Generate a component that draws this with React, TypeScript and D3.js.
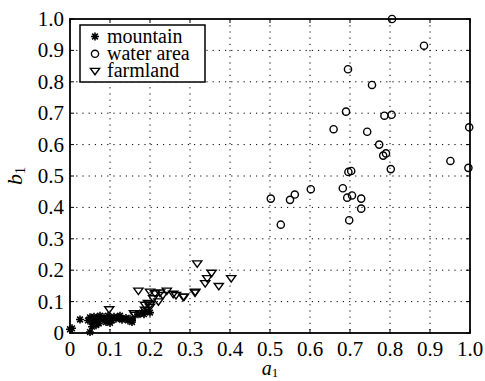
import * as d3 from "d3";

// point values, as [a1, b1]
const mountain: [number, number][] = [
  [0.0, 0.012], [0.005, 0.015], [0.025, 0.043], [0.05, 0.003], [0.055, 0.02],
  [0.058, 0.03], [0.045, 0.04], [0.05, 0.05], [0.055, 0.045], [0.06, 0.052],
  [0.065, 0.038], [0.07, 0.048], [0.075, 0.055], [0.08, 0.045], [0.085, 0.05],
  [0.09, 0.042], [0.095, 0.055], [0.1, 0.048], [0.105, 0.04], [0.11, 0.052],
  [0.115, 0.045], [0.12, 0.05], [0.125, 0.055], [0.13, 0.042], [0.14, 0.048],
  [0.145, 0.04], [0.15, 0.045], [0.155, 0.035], [0.065, 0.025], [0.072, 0.03],
  [0.09, 0.035], [0.1, 0.032], [0.129, 0.047], [0.155, 0.041], [0.17, 0.06],
  [0.18, 0.065], [0.19, 0.07], [0.185, 0.06], [0.2, 0.065],
];

const waterArea: [number, number][] = [
  [0.805, 1.0], [0.885, 0.915], [0.695, 0.84], [0.755, 0.79], [0.69, 0.705],
  [0.786, 0.692], [0.804, 0.695], [0.659, 0.649], [0.743, 0.641], [0.998, 0.655],
  [0.773, 0.6], [0.783, 0.565], [0.79, 0.572], [0.802, 0.522], [0.951, 0.548],
  [0.996, 0.526], [0.696, 0.513], [0.703, 0.516], [0.55, 0.424], [0.562, 0.441],
  [0.602, 0.458], [0.682, 0.461], [0.693, 0.431], [0.705, 0.438], [0.728, 0.428],
  [0.728, 0.396], [0.698, 0.359], [0.502, 0.428], [0.527, 0.345],
];

const farmland: [number, number][] = [
  [0.098, 0.075], [0.16, 0.062], [0.1625, 0.057], [0.175, 0.062], [0.1875, 0.073],
  [0.2, 0.083], [0.1875, 0.089], [0.208, 0.11], [0.221, 0.1], [0.195, 0.095],
  [0.2, 0.09], [0.171, 0.134], [0.2, 0.131], [0.2125, 0.126], [0.225, 0.128],
  [0.242, 0.134], [0.232, 0.12], [0.258, 0.124], [0.265, 0.12], [0.283, 0.115],
  [0.3125, 0.128], [0.318, 0.221], [0.354, 0.191], [0.343, 0.174], [0.338, 0.158],
  [0.372, 0.149], [0.403, 0.174], [0.313, 0.131], [0.285, 0.115],
];

const xTicks = [0, 0.1, 0.2, 0.3, 0.4, 0.5, 0.6, 0.7, 0.8, 0.9, 1.0];
const yTicks = [0, 0.1, 0.2, 0.3, 0.4, 0.5, 0.6, 0.7, 0.8, 0.9, 1.0];
const tickLabel = (v: number) => (v === 0 ? "0" : v.toFixed(1));
const legendNames = ["mountain", "water area", "farmland"];

const W = 485;
const H = 381;
const margin = { top: 19, right: 15, bottom: 48, left: 70 };
const font = "Liberation Serif";

// MATLAB-style '*' : a plus and a cross
const starPath = (r: number) => {
  const d = r * 0.7071;
  return `M${-r},0L${r},0M0,${-r}L0,${r}M${-d},${-d}L${d},${d}M${-d},${d}L${d},${-d}`;
};
const triPath = (s: number) => `M${-s},${-s * 0.6}L${s},${-s * 0.6}L0,${s * 0.8}Z`;

function Marker({ kind, x, y }: { kind: number; x: number; y: number }) {
  if (kind === 0)
    return <path d={starPath(4)} transform={`translate(${x},${y})`} stroke="#000" strokeWidth={1.6} fill="none" />;
  if (kind === 1)
    return <circle cx={x} cy={y} r={3.6} stroke="#000" strokeWidth={1.4} fill="none" />;
  return <path d={triPath(4.6)} transform={`translate(${x},${y})`} stroke="#000" strokeWidth={1.4} fill="none" />;
}

export default function App() {
  const iw = W - margin.left - margin.right;
  const ih = H - margin.top - margin.bottom;
  const x = d3.scaleLinear().domain([0, 1]).range([0, iw]);
  const y = d3.scaleLinear().domain([0, 1]).range([ih, 0]);
  const series = [mountain, waterArea, farmland];
  const txt = { fontFamily: font };

  return (
    <svg width={W} height={H} style={{ position: "absolute", left: 0, top: 0, background: "#fff" }}>
      <g transform={`translate(${margin.left},${margin.top})`}>
        {/* dotted grid */}
        {xTicks.slice(1, -1).map((t) => (
          <line key={"gx" + t} x1={x(t)} x2={x(t)} y1={0} y2={ih} stroke="#000" strokeWidth={1} strokeDasharray="1.2,5" />
        ))}
        {yTicks.slice(1, -1).map((t) => (
          <line key={"gy" + t} x1={0} x2={iw} y1={y(t)} y2={y(t)} stroke="#000" strokeWidth={1} strokeDasharray="1.2,5" />
        ))}
        {/* inward ticks on all sides */}
        {xTicks.map((t) => (
          <g key={"tx" + t}>
            <line x1={x(t)} x2={x(t)} y1={ih} y2={ih - 4} stroke="#000" />
            <line x1={x(t)} x2={x(t)} y1={0} y2={4} stroke="#000" />
          </g>
        ))}
        {yTicks.map((t) => (
          <g key={"ty" + t}>
            <line x1={0} x2={4} y1={y(t)} y2={y(t)} stroke="#000" />
            <line x1={iw} x2={iw - 4} y1={y(t)} y2={y(t)} stroke="#000" />
          </g>
        ))}
        {/* points */}
        {series.map((s, k) =>
          s.map((p, i) => <Marker key={k + "-" + i} kind={k} x={x(p[0])} y={y(p[1])} />)
        )}
        <rect x={0} y={0} width={iw} height={ih} fill="none" stroke="#000" strokeWidth={1.8} />
        {/* tick labels */}
        {xTicks.map((t) => (
          <text key={"lx" + t} x={x(t)} y={ih + 23} textAnchor="middle" fontSize={21} style={txt}>
            {tickLabel(t)}
          </text>
        ))}
        {yTicks.map((t) => (
          <text key={"ly" + t} x={-6} y={y(t) + 7} textAnchor="end" fontSize={21} style={txt}>
            {tickLabel(t)}
          </text>
        ))}
        {/* axis titles */}
        <text x={iw / 2} y={ih + 42} textAnchor="middle" fontSize={20} fontStyle="italic" style={txt}>
          a<tspan fontSize={13} dy={2} fontStyle="normal">1</tspan>
        </text>
        <text transform={`translate(${-48},${ih / 2}) rotate(-90)`} textAnchor="middle" fontSize={22} fontStyle="italic" style={txt}>
          b<tspan fontSize={14} dy={3} fontStyle="normal">1</tspan>
        </text>
        {/* legend */}
        <g transform="translate(10,6)">
          <rect x={0} y={0} width={125} height={57} fill="#fff" stroke="#000" strokeWidth={1.5} />
          {legendNames.map((n, i) => (
            <g key={n} transform={`translate(0,${11.5 + i * 17.3})`}>
              <Marker kind={i} x={15} y={0} />
              <text x={27} y={6} fontSize={20} style={txt}>
                {n}
              </text>
            </g>
          ))}
        </g>
      </g>
    </svg>
  );
}
